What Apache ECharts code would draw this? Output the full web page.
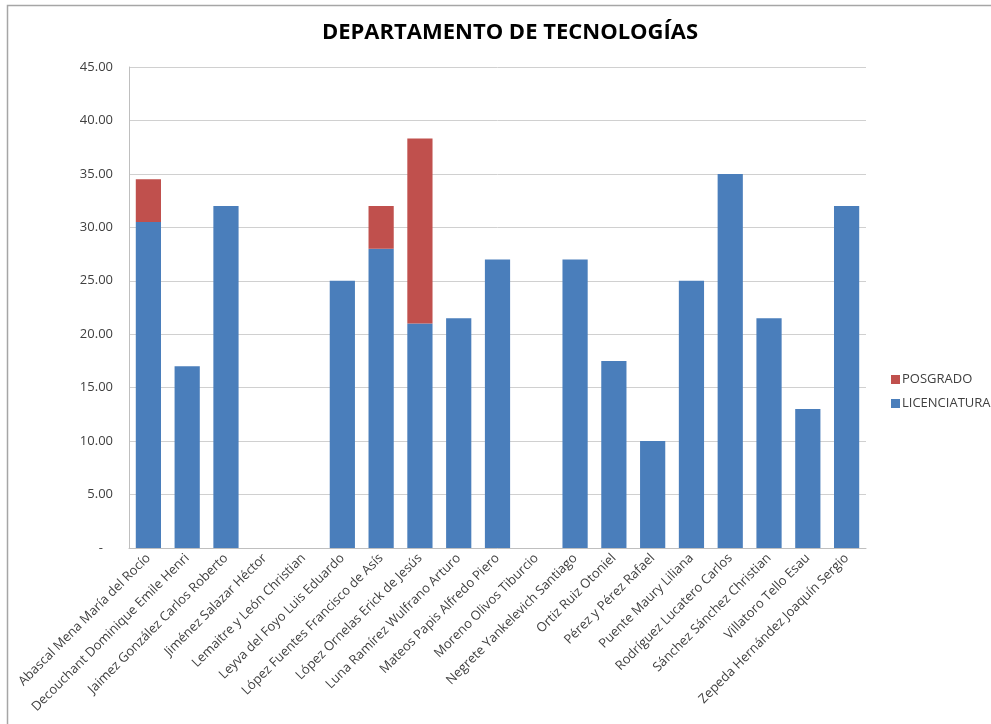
<!DOCTYPE html>
<html>
<head>
<meta charset="utf-8">
<script src="https://cdn.jsdelivr.net/npm/echarts@6/dist/echarts.min.js"></script>
<style>
  html, body { margin: 0; padding: 0; background: #fff; }
  #chart { width: 991px; height: 724px; }
</style>
</head>
<body>
<div id="chart"></div>
<script>
const profesores = [
  'Abascal Mena María del Rocío',
  'Decouchant Dominique Emile Henri',
  'Jaimez González Carlos Roberto',
  'Jiménez Salazar Héctor',
  'Lemaitre y León Christian',
  'Leyva del Foyo Luis Eduardo',
  'López Fuentes Francisco de Asís',
  'López Ornelas Erick de Jesús',
  'Luna Ramírez Wulfrano Arturo',
  'Mateos Papis Alfredo Piero',
  'Moreno Olivos Tiburcio',
  'Negrete Yankelevich Santiago',
  'Ortiz Ruiz Otoniel',
  'Pérez y Pérez Rafael',
  'Puente Maury Liliana',
  'Rodríguez Lucatero Carlos',
  'Sánchez Sánchez Christian',
  'Villatoro Tello Esau',
  'Zepeda Hernández Joaquín Sergio'
]
const licenciatura = [30.5, 17, 32, 0, 0, 25, 28, 21, 21.5, 27, 0, 27, 17.5, 10, 25, 35, 21.5, 13, 32]
const posgrado = [4, 0, 0, 0, 0, 0, 4, 17.3, 0, 0, 0, 0, 0, 0, 0, 0, 0, 0, 0]

const chart = echarts.init(document.getElementById('chart'))

chart.setOption({
  animation: false,
  textStyle: { fontFamily: 'Open Sans' },
  title: {
    text: 'DEPARTAMENTO DE TECNOLOGÍAS',
    left: 505,
    textAlign: 'center',
    top: 17,
    textStyle: { fontSize: 22, fontWeight: 'bold', color: '#000' },
  },
  graphic: [
    {
      type: 'rect',
      shape: { x: 7.5, y: 5.5, width: 1100, height: 800 },
      style: { fill: 'none', stroke: '#a6a6a6', lineWidth: 1.5 },
      silent: true,
    },
  ],
  legend: {
    orient: 'vertical',
    left: 886,
    top: 368,
    itemWidth: 9,
    itemHeight: 9,
    itemGap: 11,
    icon: 'rect',
    data: ['POSGRADO', 'LICENCIATURA'],
    textStyle: { fontSize: 13, color: '#404040', padding: [0, 0, 0, -3] },
  },
  grid: {
    left: 129,
    right: 125,
    top: 67,
    bottom: 176,
    containLabel: false,
  },
  xAxis: {
    type: 'category',
    data: profesores,
    axisLine: { lineStyle: { color: '#bfbfbf' } },
    axisTick: { show: false },
    axisLabel: {
      rotate: 45,
      interval: 0,
      fontSize: 13,
      color: '#404040',
      margin: 8,
    },
  },
  yAxis: {
    type: 'value',
    min: 0,
    max: 45,
    interval: 5,
    axisLine: { show: true, lineStyle: { color: '#bfbfbf' } },
    axisTick: { show: false },
    splitLine: { lineStyle: { color: '#d0d0d0' } },
    axisLabel: {
      fontSize: 13,
      color: '#404040',
      margin: 16,
      formatter: v => (v === 0 ? '-   ' : v.toFixed(2)),
    },
  },
  series: [
    {
      name: 'LICENCIATURA',
      type: 'bar',
      stack: 'total',
      barWidth: '65%',
      data: licenciatura,
      itemStyle: { color: '#4a7ebb' },
    },
    {
      name: 'POSGRADO',
      type: 'bar',
      stack: 'total',
      barWidth: '65%',
      data: posgrado,
      itemStyle: { color: '#c0504d' },
    },
  ],
})
</script>
</body>
</html>
